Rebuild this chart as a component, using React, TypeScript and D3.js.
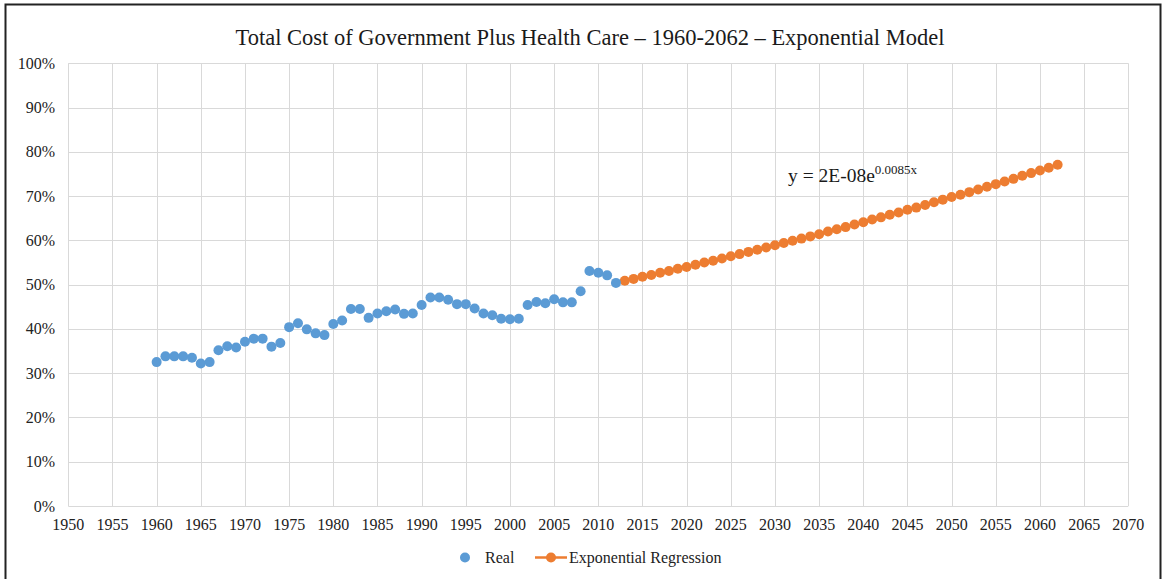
import * as d3 from 'd3';
import { useEffect, useRef } from 'react';

const realYears = [
  1960, 1961, 1962, 1963, 1964, 1965, 1966, 1967, 1968, 1969, 1970, 1971, 1972, 1973, 1974, 1975,
  1976, 1977, 1978, 1979, 1980, 1981, 1982, 1983, 1984, 1985, 1986, 1987, 1988, 1989, 1990, 1991,
  1992, 1993, 1994, 1995, 1996, 1997, 1998, 1999, 2000, 2001, 2002, 2003, 2004, 2005, 2006, 2007,
  2008, 2009, 2010, 2011, 2012,
];
const realValues = [
  0.325, 0.338, 0.338, 0.338, 0.335, 0.322, 0.325, 0.352, 0.361, 0.358, 0.371, 0.378, 0.378, 0.36,
  0.368, 0.404, 0.413, 0.399, 0.39, 0.386, 0.411, 0.419, 0.445, 0.445, 0.425, 0.435, 0.44, 0.444,
  0.434, 0.435, 0.454, 0.471, 0.471, 0.466, 0.456, 0.456, 0.446, 0.435, 0.431, 0.423, 0.422, 0.423,
  0.454, 0.461, 0.458, 0.467, 0.46, 0.46, 0.485, 0.531, 0.527, 0.521, 0.504,
];

const regYears = [
  2013, 2014, 2015, 2016, 2017, 2018, 2019, 2020, 2021, 2022, 2023, 2024, 2025, 2026, 2027, 2028,
  2029, 2030, 2031, 2032, 2033, 2034, 2035, 2036, 2037, 2038, 2039, 2040, 2041, 2042, 2043, 2044,
  2045, 2046, 2047, 2048, 2049, 2050, 2051, 2052, 2053, 2054, 2055, 2056, 2057, 2058, 2059, 2060,
  2061, 2062,
];
const regValues = [
  0.509, 0.513, 0.518, 0.522, 0.527, 0.531, 0.536, 0.54, 0.545, 0.55, 0.554, 0.559, 0.564, 0.569,
  0.574, 0.579, 0.584, 0.589, 0.594, 0.599, 0.604, 0.609, 0.614, 0.62, 0.625, 0.63, 0.636, 0.641,
  0.647, 0.652, 0.658, 0.663, 0.669, 0.674, 0.68, 0.686, 0.692, 0.698, 0.703, 0.709, 0.715, 0.721,
  0.727, 0.733, 0.739, 0.746, 0.752, 0.758, 0.764, 0.771,
];

const xTicks = d3.range(1950, 2071, 5);
const yTicks = d3.range(0, 1.01, 0.1);

const title = 'Total Cost of Government Plus Health Care – 1960-2062  – Exponential Model';
const blue = '#5B9BD5';
const orange = '#ED7D31';
const font = "'Liberation Serif', 'Times New Roman', serif";

export default function App() {
  const ref = useRef<SVGSVGElement | null>(null);

  useEffect(() => {
    const svg = d3.select(ref.current);
    svg.selectAll('*').remove();

    const x = d3.scaleLinear().domain([1950, 2070]).range([68.3, 1128.3]);
    const y = d3.scaleLinear().domain([0, 1]).range([506, 63.3]);

    // frame
    svg
      .append('rect')
      .attr('x', 5.5)
      .attr('y', 4.5)
      .attr('width', 1155)
      .attr('height', 620)
      .attr('fill', 'white')
      .attr('stroke', '#222')
      .attr('stroke-width', 2);

    svg
      .append('text')
      .attr('x', 590)
      .attr('y', 45)
      .attr('text-anchor', 'middle')
      .style('font-family', font)
      .style('font-size', '22.5px')
      .attr('fill', '#1a1a1a')
      .text(title);

    const grid = svg.append('g').attr('stroke', '#d9d9d9').attr('stroke-width', 1);
    grid
      .selectAll('.h')
      .data(yTicks)
      .join('line')
      .attr('x1', x(1950))
      .attr('x2', x(2070))
      .attr('y1', (d) => Math.round(y(d)) + 0.5)
      .attr('y2', (d) => Math.round(y(d)) + 0.5);
    grid
      .selectAll('.v')
      .data(xTicks)
      .join('line')
      .attr('y1', y(1))
      .attr('y2', y(0))
      .attr('x1', (d) => Math.round(x(d)) + 0.5)
      .attr('x2', (d) => Math.round(x(d)) + 0.5);

    svg
      .append('g')
      .selectAll('text')
      .data(yTicks)
      .join('text')
      .attr('x', 55)
      .attr('y', (d) => y(d) + 5.5)
      .attr('text-anchor', 'end')
      .style('font-family', font)
      .style('font-size', '16px')
      .attr('fill', '#222')
      .text((d) => d3.format('.0%')(d));

    svg
      .append('g')
      .selectAll('text')
      .data(xTicks)
      .join('text')
      .attr('x', (d) => x(d))
      .attr('y', 530)
      .attr('text-anchor', 'middle')
      .style('font-family', font)
      .style('font-size', '16px')
      .attr('fill', '#222')
      .text((d) => String(d));

    const regData = regYears.map((yr, i) => [yr, regValues[i]] as [number, number]);
    const line = d3
      .line<[number, number]>()
      .x((d) => x(d[0]))
      .y((d) => y(d[1]));
    svg
      .append('path')
      .datum(regData)
      .attr('d', line)
      .attr('fill', 'none')
      .attr('stroke', orange)
      .attr('stroke-width', 2.5);
    svg
      .append('g')
      .selectAll('circle')
      .data(regData)
      .join('circle')
      .attr('cx', (d) => x(d[0]))
      .attr('cy', (d) => y(d[1]))
      .attr('r', 5)
      .attr('fill', orange);

    svg
      .append('g')
      .selectAll('circle')
      .data(realYears.map((yr, i) => [yr, realValues[i]]))
      .join('circle')
      .attr('cx', (d) => x(d[0]))
      .attr('cy', (d) => y(d[1]))
      .attr('r', 5)
      .attr('fill', blue);

    const eq = svg
      .append('text')
      .attr('x', 788)
      .attr('y', 182)
      .style('font-family', font)
      .style('font-size', '19.5px')
      .attr('fill', '#1a1a1a');
    eq.append('tspan').text('y = 2E-08e');
    eq.append('tspan').attr('dy', -8).style('font-size', '13px').text('0.0085x');

    // legend
    const lg = svg.append('g').style('font-family', font).style('font-size', '16px');
    lg.append('circle').attr('cx', 465).attr('cy', 557.5).attr('r', 5).attr('fill', blue);
    lg.append('text').attr('x', 485).attr('y', 563).attr('fill', '#222').text('Real');
    lg.append('line')
      .attr('x1', 535)
      .attr('x2', 567)
      .attr('y1', 557.5)
      .attr('y2', 557.5)
      .attr('stroke', orange)
      .attr('stroke-width', 2.5);
    lg.append('circle').attr('cx', 551).attr('cy', 557.5).attr('r', 5).attr('fill', orange);
    lg.append('text').attr('x', 569).attr('y', 563).attr('fill', '#222').text('Exponential Regression');
  }, []);

  return (
    <svg
      ref={ref}
      width={1162}
      height={579}
      style={{ position: 'absolute', left: 0, top: 0, background: 'white' }}
    />
  );
}
